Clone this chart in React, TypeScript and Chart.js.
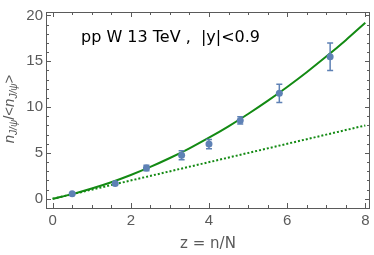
import React, { useEffect, useRef } from "react";
import { Chart, registerables } from "chart.js";

Chart.register(...registerables);

// Measured data points (z = n/N, normalized J/psi yield) with errors
const zValues = [0.5, 1.6, 2.4, 3.3, 4.0, 4.8, 5.8, 7.1];
const ratioValues = [0.55, 1.66, 3.35, 4.75, 5.97, 8.55, 11.5, 15.5];
const ratioErrors = [0.08, 0.12, 0.3, 0.5, 0.5, 0.4, 1.0, 1.5];

// Solid fit curve
const fitZ = [0, 0.5, 1, 1.5, 2, 2.5, 3, 3.5, 4, 4.5, 5, 5.5, 6, 6.5, 7, 7.5, 8];
const fitValues = [0, 0.51, 1.12, 1.81, 2.6, 3.48, 4.45, 5.51, 6.67, 7.91, 9.25, 10.68, 12.2, 13.81, 15.51, 17.3, 19.2];

// Dotted linear reference
const linearZ = [0, 8];
const linearValues = [0, 8];

const xTicks = [0, 2, 4, 6, 8];
const yTicks = [0, 5, 10, 15, 20];
const xMinorStep = 0.5;
const yMinorStep = 1;

const annotationText = "pp W 13 TeV ,  |y|<0.9";
const xTitle = "z = n/N";

const FONT = "'DejaVu Sans', sans-serif";
const TICK_FONT = "'Liberation Sans', Arial, sans-serif";
const GRAY = "#5a5a5a";
const GREEN = "#138a13";
const BLUE = "#5e81b5";

export default function App() {
  const ref = useRef<HTMLCanvasElement>(null);

  useEffect(() => {
    const canvas = ref.current;
    if (!canvas) return;

    const errorBars = {
      id: "errorBars",
      beforeDatasetDraw(chart: any, args: any) {
        if (args.index !== 0) return;
        const { ctx, scales } = chart;
        ctx.save();
        ctx.strokeStyle = BLUE;
        ctx.lineWidth = 1.5;
        zValues.forEach((z, i) => {
          const x = scales.x.getPixelForValue(z);
          const y1 = scales.y.getPixelForValue(ratioValues[i] - ratioErrors[i]);
          const y2 = scales.y.getPixelForValue(ratioValues[i] + ratioErrors[i]);
          ctx.beginPath();
          ctx.moveTo(x, y1);
          ctx.lineTo(x, y2);
          ctx.moveTo(x - 3, y1);
          ctx.lineTo(x + 3, y1);
          ctx.moveTo(x - 3, y2);
          ctx.lineTo(x + 3, y2);
          ctx.stroke();
        });
        ctx.restore();
      },
    };

    const frame = {
      id: "frame",
      afterDraw(chart: any) {
        const { ctx, chartArea, scales } = chart;
        const { left, right, top, bottom } = chartArea;
        ctx.save();
        ctx.strokeStyle = GRAY;
        ctx.lineWidth = 1;
        ctx.strokeRect(Math.round(left) + 0.5, Math.round(top) + 0.5, Math.round(right - left) - 1, Math.round(bottom - top));
        ctx.beginPath();
        const xs = scales.x;
        const ys = scales.y;
        for (let v = 0; v <= 8.0001; v += xMinorStep) {
          const major = xTicks.some((t) => Math.abs(t - v) < 1e-6);
          const len = major ? 5 : 3;
          const px = Math.round(xs.getPixelForValue(v)) + 0.5;
          ctx.moveTo(px, bottom);
          ctx.lineTo(px, bottom - len);
          ctx.moveTo(px, top);
          ctx.lineTo(px, top + len);
        }
        for (let v = 0; v <= 20.0001; v += yMinorStep) {
          const major = yTicks.some((t) => Math.abs(t - v) < 1e-6);
          const len = major ? 5 : 3;
          const py = Math.round(ys.getPixelForValue(v)) + 0.5;
          ctx.moveTo(left, py);
          ctx.lineTo(left + len, py);
          ctx.moveTo(right, py);
          ctx.lineTo(right - len, py);
        }
        ctx.stroke();

        // annotation
        ctx.fillStyle = "#000000";
        ctx.font = `16px ${FONT}`;
        ctx.textBaseline = "middle";
        ctx.textAlign = "left";
        ctx.fillText(annotationText, 81, 38);

        // x title
        ctx.fillStyle = GRAY;
        ctx.font = `15px ${FONT}`;
        ctx.textAlign = "center";
        ctx.fillText(xTitle, (left + right) / 2, 244);

        // y title with subscripts, rotated
        const parts: [string, number, number, boolean][] = [
          ["n", 15, 0, true],
          ["J/\u03c8", 10, 4, true],
          ["/<", 15, 0, false],
          ["n", 15, 0, true],
          ["J/\u03c8", 10, 4, true],
          [">", 15, 0, false],
        ];
        let total = 0;
        const widths = parts.map(([t, s, , it]) => {
          ctx.font = `${it ? "italic " : ""}${s}px ${TICK_FONT}`;
          const w = ctx.measureText(t).width;
          total += w;
          return w;
        });
        ctx.translate(10, 109);
        ctx.rotate(-Math.PI / 2);
        ctx.textAlign = "left";
        ctx.textBaseline = "middle";
        let cx = -total / 2;
        parts.forEach(([t, s, dy, it], i) => {
          ctx.font = `${it ? "italic " : ""}${s}px ${TICK_FONT}`;
          ctx.fillText(t, cx, dy);
          cx += widths[i];
        });
        ctx.restore();
      },
    };

    const chart = new Chart(canvas, {
      type: "scatter",
      data: {
        datasets: [
          {
            label: "data",
            data: zValues.map((z, i) => ({ x: z, y: ratioValues[i] })),
            pointRadius: 3.5,
            pointBackgroundColor: BLUE,
            pointBorderWidth: 0,
            showLine: false,
          },
          {
            label: "fit",
            data: fitZ.map((z, i) => ({ x: z, y: fitValues[i] })),
            showLine: true,
            borderColor: GREEN,
            borderWidth: 2,
            pointRadius: 0,
            cubicInterpolationMode: "monotone",
          },
          {
            label: "linear",
            data: linearZ.map((z, i) => ({ x: z, y: linearValues[i] })),
            showLine: true,
            borderColor: GREEN,
            borderWidth: 2,
            borderDash: [2, 2],
            pointRadius: 0,
          },
        ],
      },
      options: {
        animation: false,
        responsive: false,
        maintainAspectRatio: false,
        layout: { padding: { top: 5, right: 2, left: 0, bottom: 0 } },
        plugins: { legend: { display: false }, tooltip: { enabled: false } },
        scales: {
          x: {
            type: "linear",
            min: -0.17,
            max: 8.12,
            grid: { display: false, drawTicks: false },
            border: { display: false },
            afterFit: (s: any) => {
              s.height = 47;
            },
            afterBuildTicks: (s: any) => {
              s.ticks = xTicks.map((v) => ({ value: v }));
            },
            ticks: {
              padding: 4,
              color: GRAY,
              font: { family: TICK_FONT, size: 15 },
              maxRotation: 0,
              autoSkip: false,
            },
          },
          y: {
            type: "linear",
            min: -1.0,
            max: 20.37,
            grid: { display: false, drawTicks: false },
            border: { display: false },
            afterFit: (s: any) => {
              s.width = 46;
            },
            afterBuildTicks: (s: any) => {
              s.ticks = yTicks.map((v) => ({ value: v }));
            },
            ticks: {
              padding: 3,
              color: GRAY,
              font: { family: TICK_FONT, size: 15 },
              autoSkip: false,
            },
          },
        },
      },
      plugins: [errorBars, frame],
    } as any);

    return () => chart.destroy();
  }, []);

  return (
    <div style={{ position: "fixed", left: 0, top: 0, width: 374, height: 255, background: "#fff" }}>
      <canvas ref={ref} width={374} height={255} style={{ display: "block", width: 374, height: 255 }} />
    </div>
  );
}
